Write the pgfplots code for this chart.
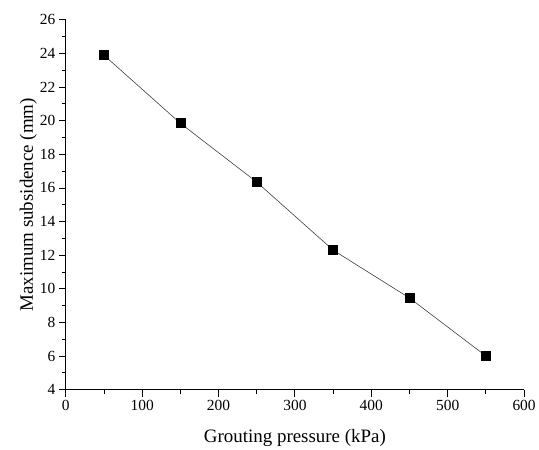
\documentclass[border=0pt]{standalone}
\usepackage{fontspec}
\setmainfont{Liberation Serif}
\usepackage{pgfplots}
\pgfplotsset{compat=1.18}
\begin{document}
\begin{tikzpicture}
\begin{axis}[
  scale only axis,
  width=460pt, height=371pt,
  xmin=0, xmax=600, ymin=4, ymax=26,
  axis x line*=bottom, axis y line*=left,
  axis line style={line width=0.9pt, -},
  xtick={0,100,...,600}, ytick={4,6,...,26},
  minor x tick num=1, minor y tick num=1,
  tick align=outside,
  major tick length=7pt, minor tick length=4pt,
  tick style={line width=0.9pt, black},
  /pgf/number format/assume math mode=true,
  ticklabel style={font=\fontsize{15.5}{17}\selectfont},
  label style={font=\fontsize{19}{22}\selectfont},
  xlabel={Grouting pressure (kPa)},
  ylabel={Maximum subsidence (mm)},
  xlabel style={yshift=-12pt},
  ylabel style={yshift=-4pt},
  clip=false,
]
\addplot[black!75, line width=0.6pt, mark=square*, mark size=4.5pt, mark options={black, solid}]
coordinates {(50,23.9) (150,19.85) (250,16.35) (350,12.3) (450,9.45) (550,6.0)};
\end{axis}
\path[use as bounding box] ([shift={(-66pt,-59pt)}]current axis.south west) rectangle ([shift={(13pt,20pt)}]current axis.north east);
\end{tikzpicture}
\end{document}
